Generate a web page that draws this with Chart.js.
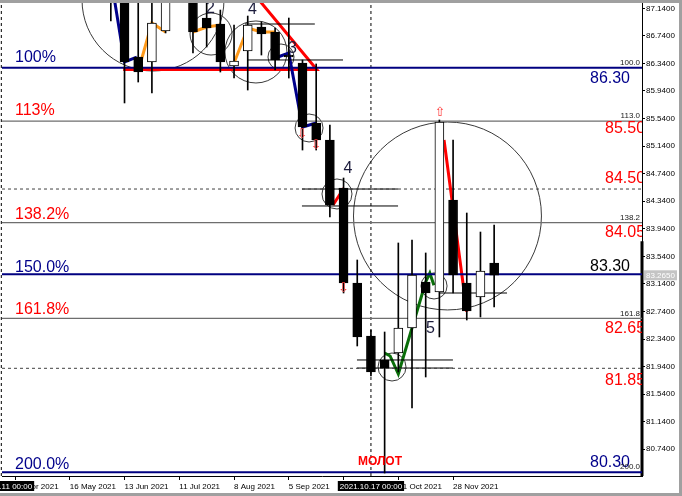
<!DOCTYPE html>
<html>
<head>
<meta charset="utf-8">
<title>Weekly chart</title>
<script src="https://cdn.jsdelivr.net/npm/chart.js@4.4.1/dist/chart.umd.min.js"></script>
<style>
  body { margin: 0; background: #fff; }
  canvas { display: block; }
</style>
</head>
<body>
<canvas id="chart" width="682" height="496"></canvas>
<script>
// Weekly candles, index 0 = week of 18 Apr 2021
const weeks  = [7, 8, 9, 10, 11, 12, 13, 14, 15, 16, 17, 18, 19, 20, 21, 22, 23, 24, 25, 26, 27, 28, 29, 30, 31, 32, 33, 34, 35];
const opens  = [87.60, 87.55, 86.433, 86.361, 86.811, 87.45, 87.40, 86.999, 86.912, 86.303, 86.520, 86.869, 86.796, 86.462, 86.346, 85.475, 85.229, 84.532, 83.153, 82.384, 82.036, 82.137, 82.500, 83.168, 83.022, 84.358, 83.153, 82.950, 83.443];
const highs  = [87.75, 87.65, 87.35, 87.30, 87.45, 87.70, 87.50, 87.25, 87.115, 86.898, 87.028, 86.941, 86.854, 86.999, 86.390, 86.332, 85.446, 84.677, 83.487, 82.471, 82.442, 83.734, 83.777, 83.589, 85.519, 85.229, 84.169, 83.893, 83.995];
const lows   = [86.956, 85.766, 86.070, 85.911, 86.782, 87.30, 86.491, 86.578, 86.215, 86.128, 85.954, 86.462, 86.245, 86.128, 85.083, 85.083, 84.111, 83.008, 82.239, 81.803, 80.395, 81.862, 81.339, 81.789, 82.370, 83.008, 82.616, 82.660, 82.805];
const closes = [87.35, 86.361, 86.215, 86.927, 87.35, 87.60, 86.796, 86.854, 86.361, 86.375, 86.898, 86.767, 86.390, 86.433, 85.417, 85.229, 84.285, 83.153, 82.369, 81.861, 81.919, 82.500, 83.269, 83.009, 85.490, 83.269, 82.747, 83.327, 83.265];

// axes
const dateTicks  = [0, 4, 8, 12, 16, 20, 24, 28, 32];
const dateLabels = ['18 Apr 2021', '16 May 2021', '13 Jun 2021', '11 Jul 2021', '8 Aug 2021', '5 Sep 2021', '3 Oct 2021', '31 Oct 2021', '28 Nov 2021'];
const priceTicks = [87.14, 86.74, 86.34, 85.94, 85.54, 85.14, 84.74, 84.34, 83.94, 83.54, 83.14, 82.74, 82.34, 81.94, 81.54, 81.14, 80.74];

// fibo levels
const fibLevels = [86.278, 85.504, 84.517, 84.028, 83.279, 82.641, 81.915, 80.406];
const pctLabels = ['100%', '113%', '138.2%', '150.0%', '161.8%', '200.0%'];
const pctAt     = [86.365, 85.591, 84.078, 83.317, 82.703, 80.454];
const valLabels = ['86.30', '85.50', '84.50', '84.05', '83.30', '82.65', '81.85', '80.30'];
const valAt     = [86.051, 85.326, 84.600, 83.825, 83.332, 82.423, 81.673, 80.487];
const valX      = [42.0, 43.1, 43.1, 43.1, 42.0, 43.1, 43.1, 42.0];
const smallLabels = ['100.0', '113.0', '138.2', '161.8', '200.0'];
const smallAt     = [86.317, 85.543, 84.067, 82.679, 80.454];

// drawn objects
const orangeX = [9, 10, 11, 12, 13, 14, 15, 15.5, 16, 17, 18, 19];
const orangeY = [86.230, 86.927, 86.796, null, 86.796, 86.869, 86.898, null, 86.346, 86.854, 86.796, 86.796];
const blueX = [7, 8, 8.9, 14, 19, 20, 21, 22];
const blueY = [87.59, 86.361, 86.433, null, 86.419, 86.491, 85.417, 85.475];
const greenX = [27, 27.4, 28, 29, 30, 30.3, 30.6];
const greenY = [82.137, 82.094, 81.832, 82.500, 83.168, 83.298, 83.120];
const redX = [7.9, 22.04, 17.24];
const redY = [86.252, 86.252, 87.40];
const red2X = [23.23, 24.03, 28, 31.34, 33.0];
const red2Y = [84.285, 84.532, null, 85.229, 82.736];
const segStart = [16.8, 16.95, 20.96, 20.96, 24.98, 24.98, 31.04];
const segEnd   = [21.9, 23.96, 27.98, 27.98, 31.99, 31.99, 35.94];
const segLevel = [86.912, 86.390, 84.517, 84.271, 82.036, 81.919, 83.008];
const circleX = [10.08, 14.32, 17.6, 19.43, 21.48, 23.52, 31.59, 27.54, 30.61];
const circleY = [87.26, 86.767, 86.506, 86.433, 85.403, 84.445, 84.126, 81.934, 83.110];
const circleR = [1.03, 0.305, 0.45, 0.189, 0.203, 0.218, 1.364, 0.203, 0.189]; // in price units
const waveLabels = ['2', '4', '3', '4', '5'];
const waveX = [14.28, 17.35, 20.27, 24.32, 30.35];
const waveY = [87.067, 87.057, 86.496, 84.75, 82.427];
const arrowX = [20.96, 21.99, 24.0, 31.04];
const arrowY = [85.301, 85.142, 83.066, 85.620];
const arrowUp = [false, false, false, true];
const vLines = [-1, 26];
const vLineLabels = ['2021.04.11 00:00', '2021.10.17 00:00'];

const xMin = -0.95, xMax = 45.8, yMin = 80.352, yMax = 87.217;
const navy = '#000080';

function line(xs, ys, color, width, extra) {
  return Object.assign({
    type: 'line',
    data: xs.map((x, k) => ({ x: x, y: ys[k] })),
    borderColor: color, borderWidth: width,
    pointRadius: 0, fill: false, tension: 0, spanGaps: false
  }, extra || {});
}

const datasets = [];

// candles
datasets.push({
  type: 'bar', order: -1, grouped: false, barThickness: 1,
  data: weeks.map((w, k) => ({ x: w, y: [lows[k], highs[k]] })),
  backgroundColor: '#000'
});
datasets.push({
  type: 'bar', order: -2, grouped: false, barThickness: 9,
  data: weeks.map((w, k) => ({ x: w, y: [opens[k], closes[k]] })),
  backgroundColor: weeks.map((w, k) => closes[k] >= opens[k] ? '#fff' : '#000'),
  borderColor: '#000', borderWidth: 1, borderSkipped: false
});

// fibo lines
const fibStyle = ['main', 'thin', 'dash', 'thin', 'main', 'thin', 'dash', 'main'];
fibLevels.forEach((lv, k) => {
  const st = fibStyle[k];
  datasets.push(line([xMin, xMax], [lv, lv],
    st === 'main' ? navy : (st === 'thin' ? '#6e6e6e' : '#404040'),
    st === 'main' ? 2 : 1.3,
    st === 'dash' ? { borderDash: [3, 3], borderWidth: 1 } : {}));
});

// horizontal helper segments
const segXs = [], segYs = [];
segStart.forEach((s, k) => {
  segXs.push(s, segEnd[k], segEnd[k] + 0.01);
  segYs.push(segLevel[k], segLevel[k], null);
});
datasets.push(line(segXs, segYs, '#000', 1));

// vertical time lines
vLines.forEach(v => datasets.push(line([v, v], [yMin, yMax], '#000', 1, { borderDash: [3, 3], clip: false })));

// zigzags and triangle
datasets.push(line(orangeX, orangeY, '#ff9a1a', 3));
datasets.push(line(blueX, blueY, '#00008b', 3));
datasets.push(line(greenX, greenY, '#0a6e0a', 3));
datasets.push(line(redX, redY, '#ff0000', 3));
datasets.push(line(red2X, red2Y, '#ff0000', 3));

// price range bar on the axis
datasets.push(line([xMax, xMax], [83.76, yMin], '#000', 3, { clip: false }));

// circles
datasets.push({
  type: 'line', showLine: false,
  data: circleX.map((x, k) => ({ x: x, y: circleY[k] })),
  pointRadius: ctx => {
    const y = ctx.chart.scales.y;
    const k = ctx.dataIndex;
    return Math.abs(y.getPixelForValue(circleY[k]) - y.getPixelForValue(circleY[k] + circleR[k]));
  },
  pointHoverRadius: 0,
  pointBorderColor: '#3a3a3a', pointBorderWidth: 1,
  pointBackgroundColor: 'rgba(0,0,0,0)'
});

const overlay = {
  id: 'overlay',
  beforeDraw(chart) {
    const { ctx, width, height } = chart;
    ctx.save();
    ctx.fillStyle = '#fff';
    ctx.fillRect(0, 0, width, height);
    ctx.fillStyle = '#a0a0a0';
    ctx.fillRect(0, 0, width, 3);
    ctx.fillRect(width - 3, 0, 3, height);
    ctx.fillRect(0, height - 3, width, 3);
    ctx.restore();
  },
  afterDatasetsDraw(chart) {
    const { ctx, chartArea: a, scales: { x, y } } = chart;
    ctx.save();
    ctx.beginPath();
    ctx.rect(a.left, a.top, a.right - a.left, a.bottom - a.top);
    ctx.clip();
    ctx.textBaseline = 'alphabetic';
    ctx.font = '16px "Liberation Sans", Arial, sans-serif';
    ctx.textAlign = 'left';
    pctLabels.forEach((s, k) => {
      ctx.fillStyle = s.startsWith('1') && s !== '100%' && s !== '150.0%' ? '#ff0000' : '#00008b';
      ctx.fillText(s, x.getPixelForValue(0), y.getPixelForValue(pctAt[k]));
    });
    valLabels.forEach((s, k) => {
      ctx.fillStyle = k === 0 || k === 7 ? '#00008b' : (k === 4 ? '#000' : '#ff0000');
      ctx.fillText(s, x.getPixelForValue(valX[k]), y.getPixelForValue(valAt[k]));
    });
    ctx.fillStyle = '#1c1c3c';
    ctx.textAlign = 'center';
    waveLabels.forEach((s, k) => ctx.fillText(s, x.getPixelForValue(waveX[k]), y.getPixelForValue(waveY[k])));
    ctx.font = 'bold 12px "Liberation Sans", Arial, sans-serif';
    ctx.fillStyle = '#ff0000';
    ctx.fillText('МОЛОТ', x.getPixelForValue(26.66), y.getPixelForValue(80.512));
    ctx.font = '8px "Liberation Sans", Arial, sans-serif';
    ctx.fillStyle = '#202020';
    ctx.textAlign = 'right';
    smallLabels.forEach((s, k) => ctx.fillText(s, a.right - 2, y.getPixelForValue(smallAt[k])));
    ctx.font = '13px "DejaVu Sans", sans-serif';
    ctx.fillStyle = '#ff3c3c';
    ctx.textAlign = 'center';
    ctx.textBaseline = 'middle';
    arrowX.forEach((v, k) => ctx.fillText(arrowUp[k] ? '⇧' : '⇩', x.getPixelForValue(v), y.getPixelForValue(arrowY[k])));
    ctx.restore();
  },
  afterDraw(chart) {
    const { ctx, chartArea: a, scales: { x, y }, width } = chart;
    ctx.save();
    ctx.font = '8px "Liberation Sans", Arial, sans-serif';
    ctx.textBaseline = 'middle';
    vLines.forEach((v, k) => {
      const px = x.getPixelForValue(v);
      const w = ctx.measureText(vLineLabels[k]).width + 4;
      ctx.fillStyle = '#000';
      ctx.fillRect(px - w / 2, a.bottom + 5, w, 10);
      ctx.fillStyle = '#fff';
      ctx.textAlign = 'center';
      ctx.fillText(vLineLabels[k], px, a.bottom + 10.5);
    });
    // last price tag
    const last = closes[closes.length - 1];
    const py = y.getPixelForValue(last);
    ctx.fillStyle = '#c4c4c4';
    ctx.fillRect(a.right + 2, py - 5, width - a.right - 7, 10);
    ctx.fillStyle = '#fff';
    ctx.textAlign = 'left';
    ctx.fillText(last.toFixed(4), a.right + 4, py + 0.5);
    ctx.restore();
  }
};

new Chart(document.getElementById('chart'), {
  type: 'bar',
  data: { datasets: datasets },
  options: {
    responsive: false,
    animation: false,
    events: [],
    layout: { padding: { left: 2, top: 3, right: 0, bottom: 0 } },
    plugins: { legend: { display: false }, tooltip: { enabled: false } },
    scales: {
      x: {
        type: 'linear', min: xMin, max: xMax, offset: false,
        grid: { display: true, drawOnChartArea: false, drawTicks: true, tickLength: 4, color: '#000', offset: false },
        border: { display: true, color: '#000', width: 1 },
        ticks: {
          autoSkip: false, maxRotation: 0, align: 'start', padding: 2,
          color: '#000', font: { family: 'Liberation Sans', size: 8 },
          callback: (v, idx) => dateLabels[idx]
        },
        afterBuildTicks: s => { s.ticks = dateTicks.map(v => ({ value: v })); },
        afterFit: s => { s.height = 20; s.paddingLeft = 0; s.paddingRight = 0; }
      },
      y: {
        type: 'linear', position: 'right', min: yMin, max: yMax,
        grid: { display: true, drawOnChartArea: false, drawTicks: true, tickLength: 3, color: '#000' },
        border: { display: true, color: '#000', width: 1 },
        ticks: {
          padding: 1, color: '#000', font: { family: 'Liberation Sans', size: 8 },
          callback: v => v.toFixed(4)
        },
        afterBuildTicks: s => { s.ticks = priceTicks.map(v => ({ value: v })); },
        afterFit: s => { s.width = 40; s.paddingTop = 0; s.paddingBottom = 0; }
      }
    }
  },
  plugins: [overlay]
});
</script>
</body>
</html>
